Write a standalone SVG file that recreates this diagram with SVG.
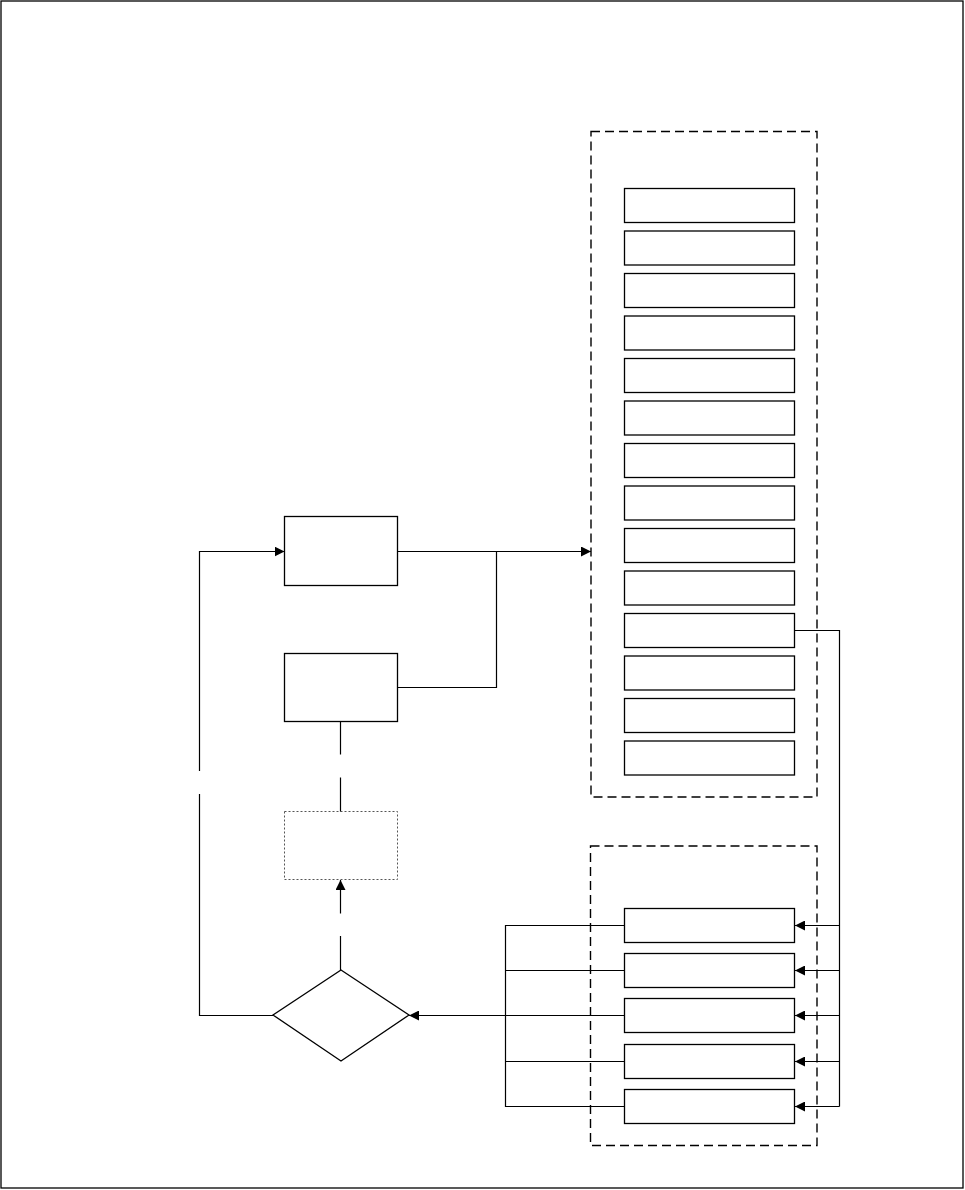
<svg xmlns="http://www.w3.org/2000/svg" width="965" height="1190" viewBox="0 0 965 1190">
<style>
.box{fill:#fff;stroke:#000;stroke-width:1.3}
.dot{fill:#fff;stroke:#555;stroke-width:1;stroke-dasharray:2,2}
.cont{fill:none;stroke:#000;stroke-width:1.4;stroke-dasharray:9,5}
.ln{fill:none;stroke:#000;stroke-width:1.2}
.ar{fill:none;stroke:#000;stroke-width:1.2;marker-end:url(#ah)}
</style>
<defs>
<marker id="ah" viewBox="0 0 10 10" refX="10" refY="5" markerWidth="10" markerHeight="10" markerUnits="userSpaceOnUse" orient="auto">
<path d="M0,0 L10,5 L0,10 z" fill="#000"/>
</marker>
</defs>
<rect x="1" y="1" width="962" height="1187" fill="#fff" stroke="#000" stroke-width="1.3"/>
<g id="container-top"><rect class="cont" x="591" y="131.5" width="226" height="665.5"/></g>
<g id="container-bottom"><rect class="cont" x="590.5" y="846" width="226.5" height="299.5"/></g>
<g id="list-top">
<rect class="box" x="624.5" y="188.5" width="170" height="34"/>
<rect class="box" x="624.5" y="231" width="170" height="34"/>
<rect class="box" x="624.5" y="273.5" width="170" height="34"/>
<rect class="box" x="624.5" y="316" width="170" height="34"/>
<rect class="box" x="624.5" y="358.5" width="170" height="34"/>
<rect class="box" x="624.5" y="401" width="170" height="34"/>
<rect class="box" x="624.5" y="443.5" width="170" height="34"/>
<rect class="box" x="624.5" y="486" width="170" height="34"/>
<rect class="box" x="624.5" y="528.5" width="170" height="34"/>
<rect class="box" x="624.5" y="571" width="170" height="34"/>
<rect class="box" x="624.5" y="613.5" width="170" height="34"/>
<rect class="box" x="624.5" y="656" width="170" height="34"/>
<rect class="box" x="624.5" y="698.5" width="170" height="34"/>
<rect class="box" x="624.5" y="741" width="170" height="34"/>
</g>
<g id="list-bottom">
<rect class="box" x="624.5" y="908.5" width="170" height="34"/>
<rect class="box" x="624.5" y="953.5" width="170" height="34"/>
<rect class="box" x="624.5" y="998.5" width="170" height="34"/>
<rect class="box" x="624.5" y="1044.5" width="170" height="34"/>
<rect class="box" x="624.5" y="1089.5" width="170" height="34"/>
</g>
<g id="node-a"><rect class="box" x="284.5" y="516.5" width="113" height="69"/></g>
<g id="node-b"><rect class="box" x="284.5" y="653.5" width="113" height="68"/></g>
<g id="node-c"><rect class="dot" x="284.5" y="811.5" width="113" height="68"/></g>
<g id="decision"><polygon class="box" stroke-width="1" points="341,970 409,1015 341,1061 273,1015"/></g>
<g id="connectors">
<path class="ar" d="M199.5,771 V551.5 H284.5"/>
<path class="ln" d="M273,1015.5 H199.5 V794"/>
<path class="ar" d="M397.5,551.5 H591"/>
<path class="ln" d="M397.5,687.5 H496.5 V551.5"/>
<path class="ln" d="M340.5,721.5 V754.5 M340.5,777.5 V811.5"/>
<path class="ln" d="M340.5,970 V936"/>
<path class="ar" d="M340.5,913.5 V880"/>
<path class="ln" d="M794.5,630.5 H839.5 V1106.5"/>
<path class="ar" d="M839.5,925.5 H795"/>
<path class="ar" d="M839.5,970.5 H795"/>
<path class="ar" d="M839.5,1015.5 H795"/>
<path class="ar" d="M839.5,1061.5 H795"/>
<path class="ar" d="M839.5,1106.5 H795"/>
<path class="ln" d="M624.5,925.5 H505.5 V1106.5 H624.5 M505.5,970.5 H624.5 M505.5,1061.5 H624.5"/>
<path class="ar" d="M624.5,1015.5 H409"/>
</g>
</svg>
